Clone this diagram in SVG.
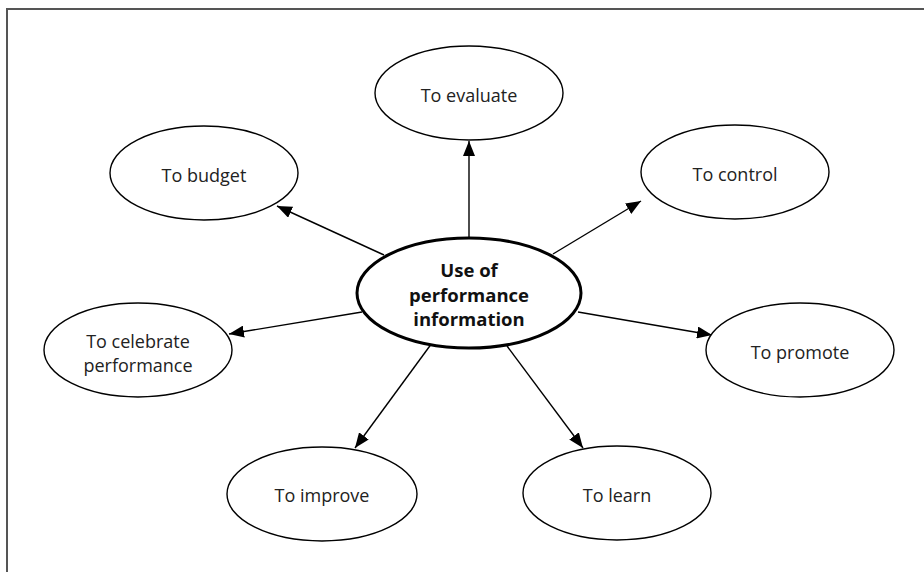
<svg xmlns="http://www.w3.org/2000/svg" width="924" height="572" viewBox="0 0 924 572">
<defs>
<style>
.frame{fill:none;stroke:#555;stroke-width:2}
.sat{fill:#fff;stroke:#000;stroke-width:1.4}
.hub{fill:#fff;stroke:#000;stroke-width:3}
.lbl{font-family:"Open Sans","Noto Sans","Liberation Sans",sans-serif;font-size:18px;fill:#222;text-anchor:middle}
.hubt{font-family:"Open Sans","Noto Sans","Liberation Sans",sans-serif;font-size:18.5px;font-weight:bold;fill:#111;text-anchor:middle}
.con{stroke:#000;stroke-width:1.4;fill:none;marker-end:url(#ah)}
</style>
<marker id="ah" markerUnits="userSpaceOnUse" markerWidth="16" markerHeight="12" refX="15" refY="6" orient="auto">
<path d="M0,0 L15,6 L0,12 z" fill="#000"/>
</marker>
</defs>
<rect width="924" height="572" fill="#fff"/>
<path class="frame" d="M7,572 V9 H924"/>
<g id="connectors">
<line class="con" x1="469" y1="238" x2="469" y2="141"/>
<line class="con" x1="553" y1="254" x2="641" y2="201"/>
<line class="con" x1="384" y1="255" x2="277" y2="206"/>
<line class="con" x1="362" y1="312" x2="229" y2="334"/>
<line class="con" x1="578" y1="312" x2="712" y2="335"/>
<line class="con" x1="432" y1="343" x2="355" y2="448"/>
<line class="con" x1="507" y1="346" x2="583" y2="448"/>
</g>
<g id="n-evaluate"><ellipse class="sat" cx="469" cy="93" rx="94" ry="47"/><text class="lbl" x="469" y="102">To evaluate</text></g>
<g id="n-budget"><ellipse class="sat" cx="204" cy="173" rx="94" ry="47"/><text class="lbl" x="204" y="182">To budget</text></g>
<g id="n-control"><ellipse class="sat" cx="735" cy="172" rx="94" ry="47"/><text class="lbl" x="735" y="181">To control</text></g>
<g id="n-celebrate"><ellipse class="sat" cx="138" cy="350" rx="94" ry="47"/><text class="lbl" x="138" y="348">To celebrate</text><text class="lbl" x="138" y="372">performance</text></g>
<g id="n-promote"><ellipse class="sat" cx="800" cy="350" rx="94" ry="47"/><text class="lbl" x="800" y="359">To promote</text></g>
<g id="n-improve"><ellipse class="sat" cx="322" cy="494" rx="95" ry="47"/><text class="lbl" x="322" y="502">To improve</text></g>
<g id="n-learn"><ellipse class="sat" cx="617" cy="493" rx="94" ry="47"/><text class="lbl" x="617" y="502">To learn</text></g>
<g id="n-hub"><ellipse class="hub" cx="469" cy="293" rx="112" ry="55"/><text class="hubt" x="469" y="277">Use of</text><text class="hubt" x="469" y="302">performance</text><text class="hubt" x="469" y="326">information</text></g>
</svg>
